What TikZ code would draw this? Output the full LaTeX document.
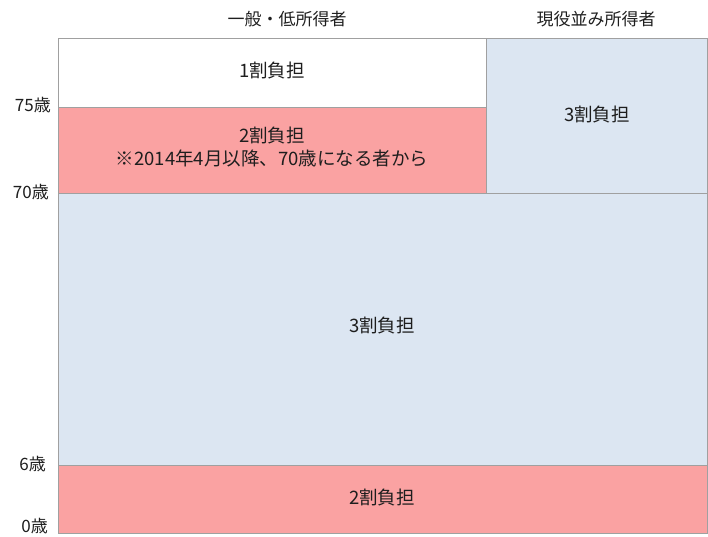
\documentclass[tikz,border=0pt]{standalone}
\usepackage{fontspec}
\setmainfont{Noto Sans CJK JP}
\definecolor{pinkfill}{RGB}{250,162,162}
\definecolor{bluefill}{RGB}{220,230,242}
\definecolor{edgegray}{RGB}{160,160,160}
\definecolor{txt}{RGB}{30,30,30}
\tikzset{
  cell/.style={draw=edgegray, line width=1pt},
  lbl/.style={font=\fontsize{18.5}{23}\selectfont, text=txt, inner sep=0pt},
  hdr/.style={font=\fontsize{17}{20}\selectfont, text=txt, inner sep=0pt},
  agelbl/.style={font=\fontsize{17}{20}\selectfont, text=txt, inner sep=0pt, anchor=east},
}
\begin{document}
\begin{tikzpicture}[x=1pt,y=-1pt]
\useasboundingbox (0,0) rectangle (708,536);
% cells
\draw[cell, fill=white] (58,38) rectangle (486,107);
\draw[cell, fill=pinkfill] (58,107) rectangle (486,193);
\draw[cell, fill=bluefill] (486,38) rectangle (707,193);
\draw[cell, fill=bluefill] (58,193) rectangle (707,465);
\draw[cell, fill=pinkfill] (58,465) rectangle (707,533);
% texts
\node[hdr] (h1) at (287,19) {一般・低所得者};
\node[hdr] (h2) at (596,19) {現役並み所得者};
\node[lbl] (t1) at (272,71) {1割負担};
\node[lbl, align=center] (t2) at (272,147) {2割負担\\※2014年4月以降、70歳になる者から};
\node[lbl] (t3) at (597,115) {3割負担};
\node[lbl] (t4) at (382,325) {3割負担};
\node[lbl] (t5) at (382,497) {2割負担};
\node[agelbl] (a75) at (51,105) {75歳};
\node[agelbl] (a70) at (49,192) {70歳};
\node[agelbl] (a6) at (46,464) {6歳};
\node[agelbl] (a0) at (48,526) {0歳};
\end{tikzpicture}
\end{document}
